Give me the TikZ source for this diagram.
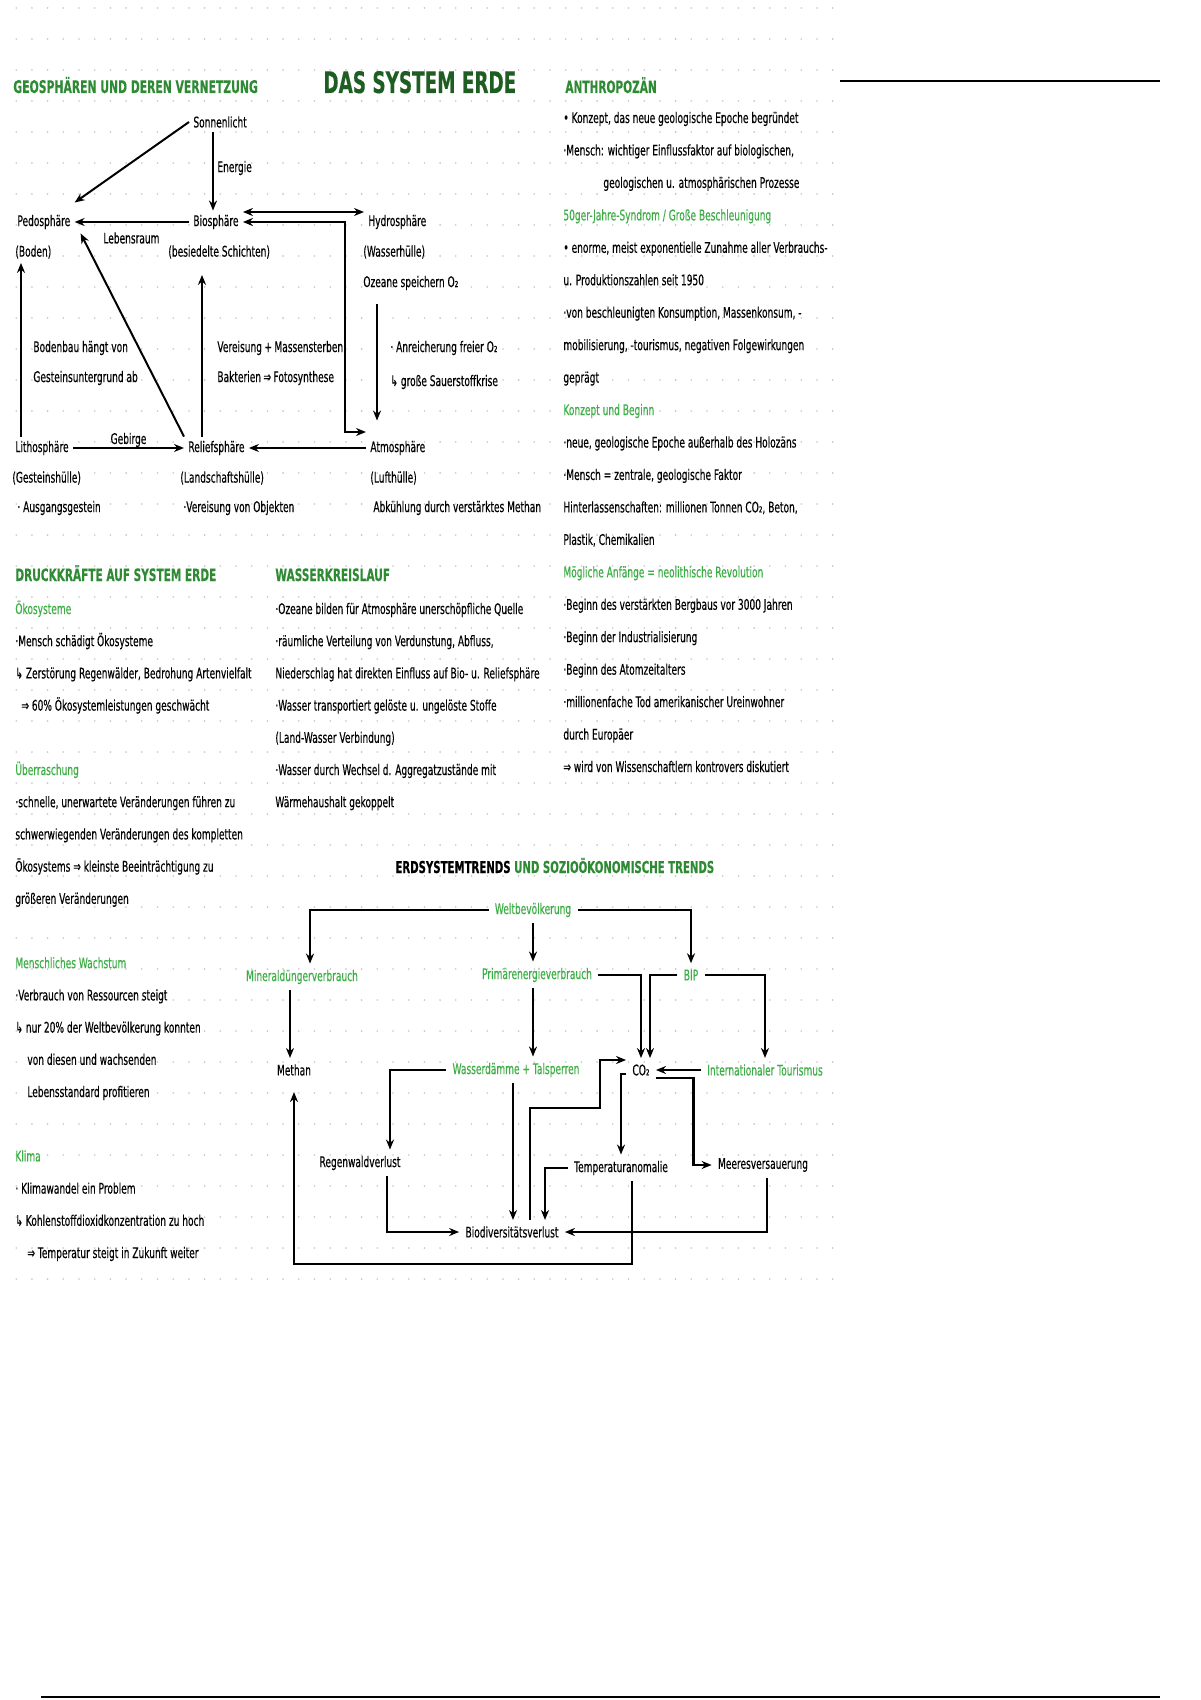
\documentclass[tikz,border=0pt]{standalone}
\usepackage{fontspec}
\newfontfamily\hand{DejaVu Sans}[FakeStretch=0.62, FakeBold=0.3]
\usetikzlibrary{arrows.meta}
\definecolor{gruen}{HTML}{2E8B34}
\definecolor{hellgruen}{HTML}{3DAE46}
\definecolor{dunkelgruen}{HTML}{1E5E22}
\tikzset{
  txt/.style={anchor=base west, inner sep=0pt, font=\hand\fontsize{7.3}{8}\selectfont},
  kopf/.style={anchor=base west, inner sep=0pt, font=\hand\bfseries\fontsize{8.5}{10}\selectfont, text=gruen},
  sphaere/.style={anchor=west, inner sep=2pt, font=\hand\fontsize{7.3}{8}\selectfont},
  trend/.style={inner sep=3pt, font=\hand\fontsize{7.3}{8}\selectfont},
  pfeil/.style={->, line width=1pt},
  dickpfeil/.style={->, line width=1.4pt},
}
\begin{document}
\begin{tikzpicture}[x=0.5pt, y=-0.5pt, >={Stealth[length=5pt,width=4pt]}]
        % Blatt und Punkteraster
        \fill[white] (0,0) rectangle (1200,1700);
        \foreach \gx in {16.2,31.9,...,833}
          \foreach \gy in {8,39,...,1290}
            \fill[gray!45] (\gx,\gy) circle (0.45pt);
        \draw[line width=1pt] (840,81) -- (1160,81);
        \draw[line width=1pt] (41,1697) -- (1160,1697);

        % Titel
        \node[anchor=base west, inner sep=0pt, font=\hand\bfseries\fontsize{14.8}{16}\selectfont, text=dunkelgruen] (titel) at (323,93) {DAS SYSTEM ERDE};

        % Geosphaeren
        \node[kopf, font=\hand\bfseries\fontsize{8.7}{10}\selectfont] (geokopf) at (13,93) {GEOSPHÄREN UND DEREN VERNETZUNG};
        \node[sphaere] (sonne) at (189,122) {Sonnenlicht};
        \node[sphaere] (energie) at (213,168) {Energie};
        \node[sphaere] (pedo) at (13,222) {Pedosphäre};
        \node[sphaere] (boden) at (11,252) {(Boden)};
        \node[sphaere] (bio) at (189,222) {Biosphäre};
        \node[sphaere] (biounter) at (164,252) {(besiedelte Schichten)};
        \node[sphaere] (lebensraum) at (99,238) {Lebensraum};
        \node[sphaere] (hydro) at (364,222) {Hydrosphäre};
        \node[sphaere] (hydrounter) at (359,252) {(Wasserhülle)};
        \node[sphaere] (ozeane) at (359,283) {Ozeane speichern O₂};
        \node[sphaere] (anreicherung) at (386,348) {· Anreicherung freier O₂};
        \node[sphaere] (krise) at (386,382) {↳ große Sauerstoffkrise};
        \node[sphaere] (atmo) at (366,448) {Atmosphäre};
        \node[sphaere] (atmounter) at (366,478) {(Lufthülle)};
        \node[sphaere] (abkuehlung) at (369,508) {Abkühlung durch verstärktes Methan};
        \node[sphaere] (relief) at (184,448) {Reliefsphäre};
        \node[sphaere] (reliefunter) at (176,478) {(Landschaftshülle)};
        \node[sphaere] (vereisung) at (179,508) {·Vereisung von Objekten};
        \node[sphaere] (litho) at (11,448) {Lithosphäre};
        \node[sphaere] (lithounter) at (8,478) {(Gesteinshülle)};
        \node[sphaere] (gestein) at (13,508) {· Ausgangsgestein};
        \node[sphaere] (bodenbau) at (29,348) {Bodenbau hängt von};
        \node[sphaere] (untergrund) at (29,378) {Gesteinsuntergrund ab};
        \node[sphaere] (massen) at (213,348) {Vereisung\,+\,Massensterben};
        \node[sphaere] (bakterien) at (213,378) {Bakterien\,⇒\,Fotosynthese};
        \coordinate (knick) at (345,432);

        \draw[pfeil] (sonne.west) -- ([yshift=4pt]pedo.north east);
        \draw[pfeil] (energie.west |- sonne.south) -- (energie.west |- bio.north);
        \draw[pfeil] (bio.west) -- (pedo.east);
        \draw[<->, line width=1pt] ([yshift=5pt]bio.east) -- ([yshift=5pt]bio.east -| hydro.west);
        \draw[<->, line width=1pt] (bio.east) -| (knick) -- (knick -| atmo.west);
        \draw[pfeil, shorten <=5pt, shorten >=8pt] ([xshift=9pt]ozeane.south west) -- ([xshift=9pt]ozeane.south west |- atmo.north);
        \draw[pfeil] (atmo.west) -- (relief.east);
        \draw[pfeil] (litho.east) -- node[midway, above, inner sep=0pt, font=\hand\fontsize{7.3}{8}\selectfont] (gebirge) {Gebirge} (relief.west);
        \draw[pfeil] ([xshift=5pt]litho.north west) -- ([xshift=5pt]litho.north west |- boden.south);
        \draw[pfeil] (relief.north west) -- ([xshift=3pt]pedo.south east);
        \draw[pfeil, shorten >=6pt] ([xshift=9pt]relief.north west) -- ([xshift=9pt]relief.north west |- biounter.south);

        % Anthropozaen
        \node[kopf] (anthkopf) at (565,93) {ANTHROPOZÄN};
        \foreach \k/\zeile in {
          0/{• Konzept, das neue geologische Epoche begründet},
          1/{·Mensch: wichtiger Einflussfaktor auf biologischen,},
          2/{\hspace*{20pt}geologischen u. atmosphärischen Prozesse},
          3/{\color{hellgruen}50ger-Jahre-Syndrom / Große Beschleunigung},
          4/{• enorme, meist exponentielle Zunahme aller Verbrauchs-},
          5/{u. Produktionszahlen seit 1950},
          6/{·von beschleunigten Konsumption, Massenkonsum, -},
          7/{mobilisierung, -tourismus, negativen Folgewirkungen},
          8/{geprägt},
          9/{\color{hellgruen}Konzept und Beginn},
          10/{·neue, geologische Epoche außerhalb des Holozäns},
          11/{·Mensch = zentrale, geologische Faktor},
          12/{Hinterlassenschaften: millionen Tonnen CO₂, Beton,},
          13/{Plastik, Chemikalien},
          14/{\color{hellgruen}Mögliche Anfänge = neolithische Revolution},
          15/{·Beginn des verstärkten Bergbaus vor 3000 Jahren},
          16/{·Beginn der Industrialisierung},
          17/{·Beginn des Atomzeitalters},
          18/{·millionenfache Tod amerikanischer Ureinwohner},
          19/{durch Europäer},
          20/{⇒ wird von Wissenschaftlern kontrovers diskutiert}}
          \node[txt] (anth\k) at (563,123+32.45*\k) {\zeile};

        % Druckkraefte
        \node[kopf] (druckkopf) at (15,581) {DRUCKKRÄFTE AUF SYSTEM ERDE};
        \foreach \k/\zeile in {
          0/{\color{hellgruen}Ökosysteme},
          1/{·Mensch schädigt Ökosysteme},
          2/{↳ Zerstörung Regenwälder, Bedrohung Artenvielfalt},
          3/{\hspace*{3pt}⇒ 60\% Ökosystemleistungen geschwächt},
          5/{\color{hellgruen}Überraschung},
          6/{·schnelle, unerwartete Veränderungen führen zu},
          7/{schwerwiegenden Veränderungen des kompletten},
          8/{Ökosystems ⇒ kleinste Beeinträchtigung zu},
          9/{größeren Veränderungen},
          11/{\color{hellgruen}Menschliches Wachstum},
          12/{·Verbrauch von Ressourcen steigt},
          13/{↳ nur 20\% der Weltbevölkerung konnten},
          14/{\hspace*{6pt}von diesen und wachsenden},
          15/{\hspace*{6pt}Lebensstandard profitieren},
          17/{\color{hellgruen}Klima},
          18/{· Klimawandel ein Problem},
          19/{↳ Kohlenstoffdioxidkonzentration zu hoch},
          20/{\hspace*{6pt}⇒ Temperatur steigt in Zukunft weiter}}
          \node[txt] (druck\k) at (15,614+32.2*\k) {\zeile};

        % Wasserkreislauf
        \node[kopf] (wasserkopf) at (275,581) {WASSERKREISLAUF};
        \foreach \k/\zeile in {
          0/{·Ozeane bilden für Atmosphäre unerschöpfliche Quelle},
          1/{·räumliche Verteilung von Verdunstung, Abfluss,},
          2/{Niederschlag hat direkten Einfluss auf Bio- u. Reliefsphäre},
          3/{·Wasser transportiert gelöste u. ungelöste Stoffe},
          4/{(Land-Wasser Verbindung)},
          5/{·Wasser durch Wechsel d. Aggregatzustände mit},
          6/{Wärmehaushalt gekoppelt}}
          \node[txt] (wasserk\k) at (275,614+32.2*\k) {\zeile};

        % Erdsystemtrends
        \node[kopf, text=black, font=\hand\bfseries\fontsize{8.2}{10}\selectfont] (trendkopf) at (395,873) {ERDSYSTEMTRENDS {\color{gruen}UND SOZIOÖKONOMISCHE TRENDS}};
        \node[trend, text=hellgruen] (welt) at (533,910) {Weltbevölkerung};
        \node[trend, text=hellgruen] (mineral) at (302,977) {Mineraldüngerverbrauch};
        \node[trend, text=hellgruen] (primaer) at (537,975) {Primärenergieverbrauch};
        \node[trend, text=hellgruen] (bip) at (691,975) {BIP};
        \node[trend] (methan) at (294,1070) {Methan};
        \node[trend, text=hellgruen] (wasser) at (516,1070) {Wasserdämme + Talsperren};
        \node[trend] (co2) at (641,1070) {CO₂};
        \node[trend, text=hellgruen] (tour) at (765,1070) {Internationaler Tourismus};
        \node[trend] (regen) at (360,1163) {Regenwaldverlust};
        \node[trend] (temp) at (621,1168) {Temperaturanomalie};
        \node[trend] (meer) at (763,1165) {Meeresversauerung};
        \node[trend] (biodiv) at (512,1232) {Biodiversitätsverlust};

        \draw[dickpfeil] (welt.west) -| ([xshift=4pt]mineral.north);
        \draw[dickpfeil] (welt.east) -| (bip.north);
        \draw[dickpfeil] (welt.south) -- (welt.south |- primaer.north);
        \draw[dickpfeil] ([xshift=-6pt]mineral.south) -- ([xshift=-6pt]mineral.south |- methan.north);
        \draw[dickpfeil] ([xshift=-2pt]primaer.south) -- ([xshift=-2pt]primaer.south |- wasser.north);
        \draw[dickpfeil] (primaer.east) -| (co2.north);
        \draw[dickpfeil] (bip.west) -| ([xshift=4.5pt]co2.north);
        \draw[dickpfeil] (bip.east) -| (tour.north);
        \draw[dickpfeil] (tour.west) -- (co2.east);
        \draw[dickpfeil] (wasser.west) -| ([xshift=15pt]regen.north);
        \draw[dickpfeil] ([xshift=-1.5pt]wasser.south) -- ([xshift=-1.5pt]wasser.south |- biodiv.north);
        \draw[dickpfeil] ([xshift=13.5pt]regen.south) |- (biodiv.west);
        \draw[dickpfeil] ([xshift=9pt]biodiv.north) |- (600,1108) |- ([yshift=5pt]co2.west);
        \draw[dickpfeil] ([yshift=-2pt]co2.west) -| (temp.north);
        \draw[dickpfeil] (temp.west) -| ([xshift=16.5pt]biodiv.north);
        \draw[dickpfeil] ([yshift=-4pt]co2.east) -| ([xshift=-9pt]meer.west) -- (meer.west);
        \draw[dickpfeil] ([xshift=2pt]meer.south) |- (biodiv.east);
        \draw[dickpfeil, shorten >=5pt] ([xshift=5.5pt]temp.south) |- ([yshift=-10pt]biodiv.south) -| (methan.south);
    \end{tikzpicture}
\end{document}
